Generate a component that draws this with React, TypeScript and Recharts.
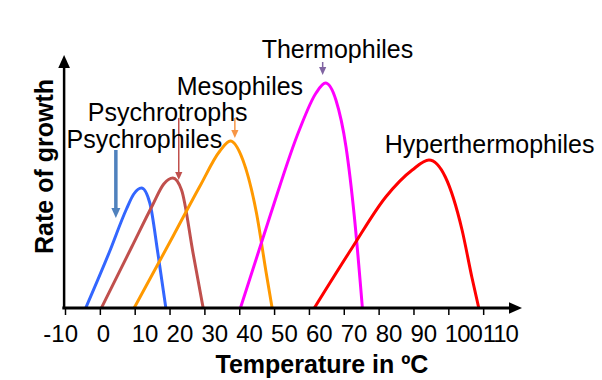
import {
  Customized,
  Line,
  LineChart,
  ReferenceDot,
  ReferenceLine,
  XAxis,
  YAxis,
} from "recharts";

const FONT = '"Liberation Sans", Arial, sans-serif';

// growth curves: x = temperature in °C, y = relative growth rate
const psychrophiles = [
  { x: -4.2, y: 0 },
  { x: 2.6, y: 56 },
  { x: 7.5, y: 99 },
  { x: 9.6, y: 114 },
  { x: 11.8, y: 120 },
  { x: 14.2, y: 105 },
  { x: 16.5, y: 55 },
  { x: 18.8, y: 0 },
];

const psychrotrophs = [
  { x: 0.3, y: 0 },
  { x: 9, y: 61 },
  { x: 15, y: 103 },
  { x: 18.2, y: 124 },
  { x: 20.8, y: 130 },
  { x: 23.3, y: 118 },
  { x: 26.6, y: 55 },
  { x: 29.5, y: 0 },
];

const mesophiles = [
  { x: 9.7, y: 0 },
  { x: 20.9, y: 72 },
  { x: 28.6, y: 122 },
  { x: 34.3, y: 157 },
  { x: 37.3, y: 167 },
  { x: 40.9, y: 148 },
  { x: 44.8, y: 95 },
  { x: 47.6, y: 35 },
  { x: 49.3, y: 0 },
];

const thermophiles = [
  { x: 40.2, y: 0 },
  { x: 48.6, y: 91 },
  { x: 57.1, y: 178 },
  { x: 61.9, y: 215 },
  { x: 64.6, y: 225 },
  { x: 67.6, y: 208 },
  { x: 70.5, y: 161 },
  { x: 72.9, y: 91 },
  { x: 75.2, y: 0 },
];

const hyperthermophiles = [
  { x: 61.4, y: 0 },
  { x: 72.4, y: 61 },
  { x: 81.9, y: 111 },
  { x: 89.5, y: 138 },
  { x: 94.3, y: 148 },
  { x: 99, y: 131 },
  { x: 103.8, y: 78 },
  { x: 106.6, y: 31 },
  { x: 108.6, y: 0 },
];

const xTicks = [-10, 0, 10, 20, 30, 40, 50, 60, 70, 80, 90, 100, 110];

const series = [
  { key: "psychrophiles", data: psychrophiles, color: "#3366ff" },
  { key: "psychrotrophs", data: psychrotrophs, color: "#c0504d" },
  { key: "mesophiles", data: mesophiles, color: "#ff9900" },
  { key: "thermophiles", data: thermophiles, color: "#ff00ff" },
  { key: "hyperthermophiles", data: hyperthermophiles, color: "#ff0000" },
];

// group names, anchored in data units (start of text, baseline)
const names = [
  { text: "Psychrophiles", x: -9.7, y: 160 },
  { text: "Psychrotrophs", x: -3.6, y: 187 },
  { text: "Mesophiles", x: 21.9, y: 213 },
  { text: "Thermophiles", x: 46.3, y: 250 },
  { text: "Hyperthermophiles", x: 81.6, y: 155 },
];

// little pointer arrows from the names down to the curves
const pointers = [
  { x: 4.45, from: 158, to: 90, color: "#4f81bd", width: 3.5, head: 10 },
  { x: 22.5, from: 190, to: 128, color: "#c0504d", width: 1.5, head: 8 },
  { x: 38.6, from: 190, to: 170, color: "#f79646", width: 1.5, head: 8 },
  { x: 63.8, from: 246, to: 233, color: "#8064a2", width: 1.5, head: 8 },
];

const arrowShape =
  (color: string, width: number, head: number) => (p: any) => {
    const { x1, y1, x2, y2 } = p;
    const len = Math.hypot(x2 - x1, y2 - y1) || 1;
    const ux = (x2 - x1) / len;
    const uy = (y2 - y1) / len;
    const bx = x2 - ux * head;
    const by = y2 - uy * head;
    const hw = head * 0.45;
    return (
      <g>
        <line x1={x1} y1={y1} x2={bx} y2={by} stroke={color} strokeWidth={width} />
        <polygon
          points={`${x2},${y2} ${bx - uy * hw},${by + ux * hw} ${bx + uy * hw},${by - ux * hw}`}
          fill={color}
        />
      </g>
    );
  };

const nameShape = (text: string) => (p: any) => (
  <text x={p.cx} y={p.cy} fontSize={25} fontFamily={FONT} fill="#000">
    {text}
  </text>
);

const Tick = (props: any) => {
  const { x, payload } = props;
  const v = payload.value;
  const neg = v < 0;
  const wide = v >= 100;
  // labels sit a touch right of their ticks, the 3-digit ones squeezed together
  const tx = neg ? x + 12.5 : v > 100 ? x - 1 : wide ? x - 4 : x - 3.5;
  return (
    <text
      x={tx}
      y={342}
      textAnchor={neg ? "end" : "start"}
      fontSize={24}
      letterSpacing={wide ? -1 : 0}
      fontFamily={FONT}
      fill="#000"
    >
      {v}
    </text>
  );
};

const Titles = () => (
  <g fontFamily={FONT} fontWeight="bold" fontSize={25} fill="#000">
    <text x={322} y={373} textAnchor="middle">
      Temperature in ºC
    </text>
    <text transform="translate(53,166.5) rotate(-90)" textAnchor="middle">
      Rate of growth
    </text>
  </g>
);

export default function App() {
  return (
    <div style={{ position: "absolute", left: 0, top: 0, background: "#fff" }}>
      <LineChart
        width={602}
        height={380}
        margin={{ top: 55, right: 80, bottom: 42, left: 65.5 }}
      >
        <XAxis
          type="number"
          dataKey="x"
          domain={[-10, 121]}
          ticks={xTicks}
          allowDataOverflow
          axisLine={false}
          tickLine={{ stroke: "#000", strokeWidth: 1.5 }}
          tickSize={7}
          tick={<Tick />}
          height={30}
        />
        <YAxis type="number" dataKey="y" domain={[0, 253]} hide allowDataOverflow />

        {series.map((s) => (
          <Line
            key={s.key}
            data={s.data}
            dataKey="y"
            type="monotone"
            stroke={s.color}
            strokeWidth={3}
            dot={false}
            activeDot={false}
            isAnimationActive={false}
          />
        ))}

        {/* axes with arrowheads */}
        <ReferenceLine
          segment={[
            { x: -10.9, y: 0 },
            { x: 121, y: 0 },
          ]}
          ifOverflow="visible"
          shape={arrowShape("#000", 3, 13)}
        />
        <ReferenceLine
          segment={[
            { x: -10.4, y: -1 },
            { x: -10.4, y: 253 },
          ]}
          ifOverflow="visible"
          shape={arrowShape("#000", 2.5, 13)}
        />

        {pointers.map((a, i) => (
          <ReferenceLine
            key={i}
            segment={[
              { x: a.x, y: a.from },
              { x: a.x, y: a.to },
            ]}
            ifOverflow="visible"
            shape={arrowShape(a.color, a.width, a.head)}
          />
        ))}

        {names.map((n) => (
          <ReferenceDot
            key={n.text}
            x={n.x}
            y={n.y}
            r={0}
            ifOverflow="visible"
            shape={nameShape(n.text)}
          />
        ))}

        <Customized component={Titles} />
      </LineChart>
    </div>
  );
}
